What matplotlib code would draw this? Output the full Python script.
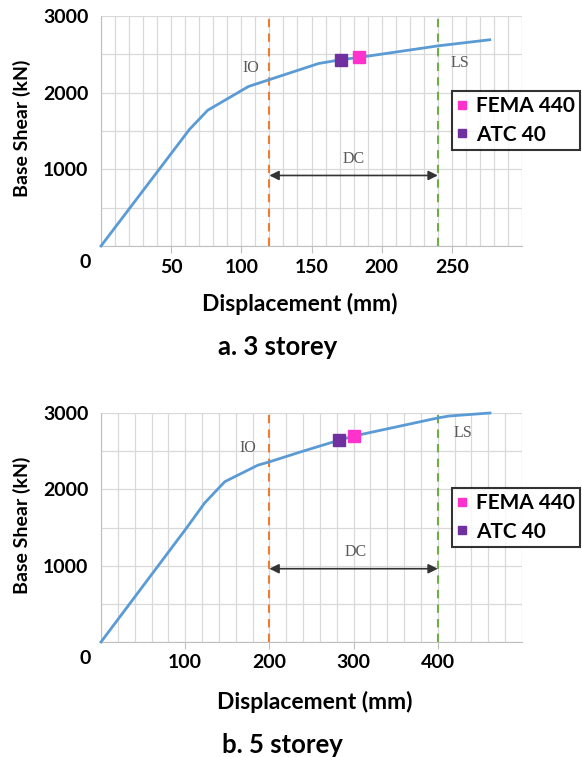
import matplotlib
matplotlib.use('Agg')
import matplotlib.pyplot as plt
import numpy as np

plt.rcParams['font.family'] = ['Lato', 'DejaVu Sans']

# 3 storey pushover curve
disp3 = [0, 63, 76, 105, 120, 155, 171, 184, 240, 277]
shear3 = [0, 1520, 1770, 2080, 2170, 2380, 2430, 2460, 2610, 2690]
fema3 = (184, 2460)
atc3 = (171, 2430)

# 5 storey pushover curve
disp5 = [0, 102, 123, 147, 186, 200, 237, 283, 301, 400, 413, 462]
shear5 = [0, 1500, 1820, 2100, 2315, 2360, 2490, 2645, 2700, 2935, 2960, 3000]
fema5 = (301, 2700)
atc5 = (283, 2645)

fig = plt.figure(figsize=(5.82, 7.57), dpi=100)

panels = [
    dict(rect=[101/582, 1-246/757, 421/582, 230/757], x=disp3, y=shear3, fema=fema3, atc=atc3,
         xmax=300, xticks=[50, 100, 150, 200, 250], minor=10, io=120, ls=240, arrow_y=920,
         io_txt=(107, 2325), ls_txt=(256, 2390), dc_txt=(180, 1130),
         leg_y=1-91/757, ylab_y=1-128/757, xlab=(300, 304), cap=(278, 347, 'a. 3 storey')),
    dict(rect=[101/582, 1-642/757, 421/582, 229/757], x=disp5, y=shear5, fema=fema5, atc=atc5,
         xmax=500, xticks=[100, 200, 300, 400], minor=20, io=200, ls=400, arrow_y=960,
         io_txt=(174, 2540), ls_txt=(430, 2740), dc_txt=(302, 1180),
         leg_y=1-488/757, ylab_y=1-525/757, xlab=(315, 702), cap=(282, 745, 'b. 5 storey')),
]

for p in panels:
    ax = fig.add_axes(p['rect'])
    ax.set_xlim(0, p['xmax'])
    ax.set_ylim(0, 3000)
    ax.set_xticks(p['xticks'])
    ax.set_xticks(np.arange(0, p['xmax'] + 1, p['minor']), minor=True)
    ax.set_yticks([1000, 2000, 3000])
    ax.set_yticks(np.arange(0, 3001, 500), minor=True)
    ax.grid(True, which='both', color='#d9d9d9', lw=0.9)
    ax.set_axisbelow(True)
    for s in ['top', 'right']:
        ax.spines[s].set_visible(False)
    for s in ['left', 'bottom']:
        ax.spines[s].set_color('#bfbfbf')
    ax.tick_params(axis='x', which='major', length=5, color='#bfbfbf', pad=4,
                   labelsize=14)
    ax.tick_params(axis='x', which='minor', length=0)
    ax.tick_params(axis='y', which='both', length=0, pad=9, labelsize=14)
    for t in ax.get_xticklabels() + ax.get_yticklabels():
        t.set_fontweight('bold')
    ax.text(-0.038, -0.07, '0', transform=ax.transAxes, ha='center', va='center',
            fontsize=14, fontweight='bold')

    ax.plot(p['x'], p['y'], color='#5b9bd5', lw=2, zorder=3, clip_on=False)
    ax.axvline(p['io'], color='#ed7d31', ls=(0, (4, 3)), lw=1.5, zorder=2)
    ax.axvline(p['ls'], color='#70ad47', ls=(0, (4, 3)), lw=1.5, zorder=2)
    ax.annotate('', xy=(p['io'], p['arrow_y']), xytext=(p['ls'], p['arrow_y']),
                arrowprops=dict(arrowstyle='<|-|>', color='#333333', lw=1.2,
                                mutation_scale=14, shrinkA=0, shrinkB=0))
    for key, lab in [('io_txt', 'IO'), ('ls_txt', 'LS'), ('dc_txt', 'DC')]:
        ax.text(*p[key], lab, family='Liberation Serif', fontsize=11.5, color='#595959',
                ha='center', va='center')

    h1, = ax.plot(*p['atc'], 's', color='#7030a0', ms=8, zorder=4, label='ATC 40')
    h2, = ax.plot(*p['fema'], 's', color='#ff33cc', ms=8, zorder=4, label='FEMA 440')
    leg = fig.legend([h2, h1], ['FEMA 440', 'ATC 40'], loc='upper left',
                     bbox_to_anchor=(452/582, p['leg_y']), frameon=True, fancybox=False,
                     edgecolor='black', prop=dict(weight='bold', size=15),
                     handlelength=0.5, handletextpad=0.4, borderpad=0.25,
                     labelspacing=0.4, borderaxespad=0, markerscale=0.75)
    leg.get_frame().set_linewidth(1.5)

    fig.text(22/582, p['ylab_y'], 'Base Shear (kN)', rotation=90, ha='center', va='center',
             fontsize=14, fontweight='bold')
    fig.text(p['xlab'][0]/582, 1-p['xlab'][1]/757, 'Displacement (mm)', ha='center',
             va='center', fontsize=16.5, fontweight='bold')
    fig.text(p['cap'][0]/582, 1-p['cap'][1]/757, p['cap'][2], ha='center', va='center',
             fontsize=18.5, fontweight='bold')

fig.savefig('out.png', dpi=100, facecolor='white')
